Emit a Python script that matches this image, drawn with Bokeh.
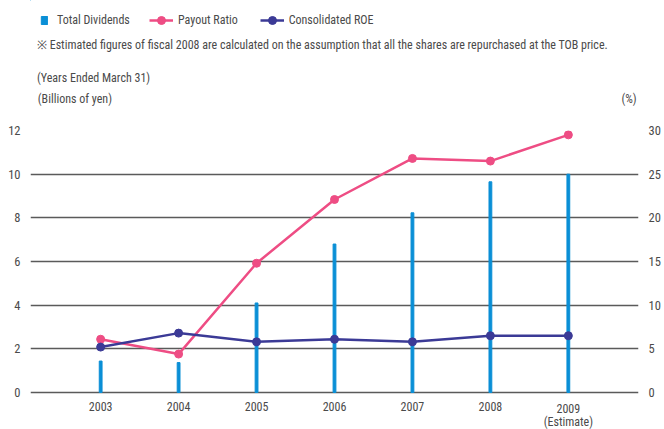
from bokeh.plotting import figure
from bokeh.layouts import column
from bokeh.models import (Range1d, LinearAxis, FixedTicker, Legend, LegendItem, ColumnDataSource)
from bokeh.core.properties import value
from bokeh.embed import file_html
from bokeh.resources import INLINE

years = [2003, 2004, 2005, 2006, 2007, 2008, 2009]
year_labels = ["2003", "2004", "2005", "2006", "2007", "2008", "2009\n(Estimate)"]
total_dividends = [1.44, 1.37, 4.1, 6.8, 8.23, 9.65, 10.0]      # billions of yen
payout_ratio = [6.1, 4.4, 14.8, 22.1, 26.8, 26.5, 29.5]          # %
consolidated_roe = [5.2, 6.8, 5.8, 6.1, 5.8, 6.5, 6.5]           # %

left_ticks = [0, 2, 4, 6, 8, 10, 12]
right_ticks = [0, 5, 10, 15, 20, 25, 30]

series_names = ["Total Dividends", "Payout Ratio", "Consolidated ROE"]
note_text = "※ Estimated figures of fiscal 2008 are calculated on the assumption that all the shares are repurchased at the TOB price."
period_text = "(Years Ended March 31)"
left_unit = "(Billions of yen)"
right_unit = "(%)"

FONT = "Roboto Condensed"
FS = "12px"
TXT = "#4a4a4a"
BLUE = "#0a8fd6"
PINK = "#ee4d84"
NAVY = "#3b3a96"
GRID = "#5a5a5a"

# ---------------- header (texts + legend) ----------------
H_TOP = 122
top = figure(width=664, height=H_TOP, output_backend="svg", toolbar_location=None,
             x_range=Range1d(0, 664), y_range=Range1d(H_TOP, 0),
             min_border_left=0, min_border_right=0, min_border_top=0, min_border_bottom=0)
top.axis.visible = False
top.grid.visible = False
top.outline_line_color = None

hdr = ColumnDataSource(dict(x=[7, 7, 8, 662], y=[44, 77, 98, 98],
                            t=[note_text, period_text, left_unit, right_unit],
                            a=["left", "left", "left", "right"]))
top.text(x="x", y="y", text="t", text_align="a", source=hdr, text_baseline="middle",
         text_font=value(FONT), text_font_size=FS, text_color=TXT)

# legend-only renderers (one point far outside the visible ranges)
d_bar = top.vbar(x=[-500], top=[-500], width=1, bottom=-501, color=BLUE)
d_l1 = top.line(x=[-500, -499], y=[-500, -500], color=PINK, line_width=2.5)
d_s1 = top.scatter(x=[-500], y=[-500], color=PINK, size=8)
d_l2 = top.line(x=[-500, -499], y=[-500, -500], color=NAVY, line_width=2.5)
d_s2 = top.scatter(x=[-500], y=[-500], color=NAVY, size=8)

common = dict(orientation="horizontal", background_fill_alpha=0, border_line_color=None,
              padding=0, margin=0, label_text_font=FONT, label_text_font_size=FS,
              label_text_color=TXT, label_text_baseline="middle")
leg1 = Legend(items=[LegendItem(label=series_names[0], renderers=[d_bar])],
              location=(10, H_TOP - 27), glyph_width=8, glyph_height=10, label_height=14,
              label_standoff=9, spacing=0, **common)
leg2 = Legend(items=[LegendItem(label=series_names[1], renderers=[d_l1, d_s1]),
                     LegendItem(label=series_names[2], renderers=[d_l2, d_s2])],
              location=(119, H_TOP - 30), glyph_width=24, glyph_height=20, label_height=20,
              label_standoff=5, spacing=22, **common)
top.add_layout(leg1)
top.add_layout(leg2)

# ---------------- chart ----------------
src = ColumnDataSource(dict(x=years, div=total_dividends, pay=payout_ratio, roe=consolidated_roe,
                            lab=year_labels))

H_CH = 429 - H_TOP
PX_PER_UNIT = 262 / 12.0
ybot = -37 / PX_PER_UNIT
p = figure(width=664, height=H_CH, output_backend="svg", toolbar_location=None,
           x_range=Range1d(2002.1, 2009.9), y_range=Range1d(ybot, 12),
           min_border_left=30, min_border_right=26, min_border_top=8, min_border_bottom=0)
p.outline_line_color = None
p.extra_y_ranges = {"pct": Range1d(ybot * 2.5, 30)}
p.xaxis.visible = False

p.yaxis.ticker = FixedTicker(ticks=left_ticks)
ra = LinearAxis(y_range_name="pct", ticker=FixedTicker(ticks=right_ticks))
p.add_layout(ra, "right")
for ax in [p.yaxis[0], ra]:
    ax.axis_line_color = None
    ax.major_tick_line_color = None
    ax.minor_tick_line_color = None
    ax.major_tick_out = 0
    ax.major_tick_in = 0
    ax.minor_tick_out = 0
    ax.minor_tick_in = 0
    ax.major_label_text_font = FONT
    ax.major_label_text_font_size = "12.5px"
    ax.major_label_text_color = TXT
    ax.major_label_standoff = 10

p.xgrid.visible = False
p.ygrid.ticker = FixedTicker(ticks=left_ticks)
p.ygrid.grid_line_color = GRID
p.ygrid.grid_line_width = 1.4

p.vbar(x="x", top="div", width=0.036, bottom=0, source=src, color=BLUE)
p.line("x", "pay", source=src, y_range_name="pct", color=PINK, line_width=2.5)
p.scatter("x", "pay", source=src, y_range_name="pct", color=PINK, size=8)
p.line("x", "roe", source=src, y_range_name="pct", color=NAVY, line_width=2.5)
p.scatter("x", "roe", source=src, y_range_name="pct", color=NAVY, size=8)

# year labels under the zero line
p.text(x="x", y=0, text="lab", source=src, text_align="center", text_baseline="top",
       y_offset=9, text_font=value(FONT), text_font_size="12px", text_color=TXT,
       text_line_height=0.95)

open("out.html", "w").write(file_html(column(top, p, spacing=0), INLINE))
